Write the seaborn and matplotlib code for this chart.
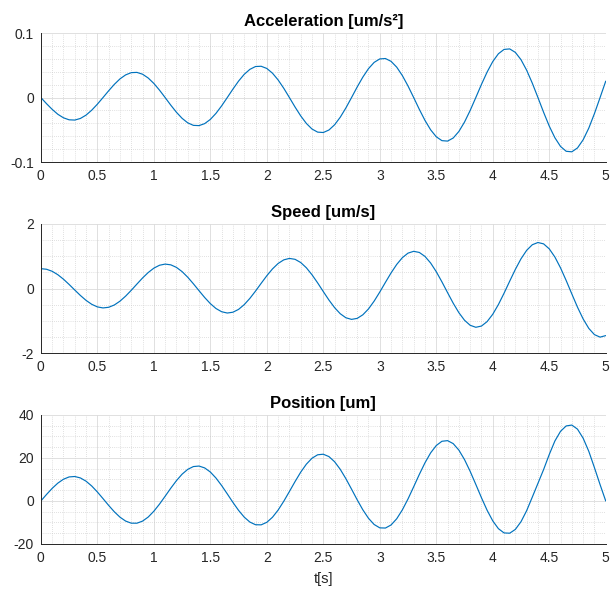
import numpy as np
import matplotlib
matplotlib.use("Agg")
import matplotlib.pyplot as plt
from matplotlib.ticker import MultipleLocator
import seaborn as sns

# sample times [s]
t = [0.00, 0.05, 0.10, 0.15, 0.20, 0.25, 0.30, 0.35, 0.40, 0.45, 0.50,
     0.55, 0.60, 0.65, 0.70, 0.75, 0.80, 0.85, 0.90, 0.95, 1.00, 1.05,
     1.10, 1.15, 1.20, 1.25, 1.30, 1.35, 1.40, 1.45, 1.50, 1.55, 1.60,
     1.65, 1.70, 1.75, 1.80, 1.85, 1.90, 1.95, 2.00, 2.05, 2.10, 2.15,
     2.20, 2.25, 2.30, 2.35, 2.40, 2.45, 2.50, 2.55, 2.60, 2.65, 2.70,
     2.75, 2.80, 2.85, 2.90, 2.95, 3.00, 3.05, 3.10, 3.15, 3.20, 3.25,
     3.30, 3.35, 3.40, 3.45, 3.50, 3.55, 3.60, 3.65, 3.70, 3.75, 3.80,
     3.85, 3.90, 3.95, 4.00, 4.05, 4.10, 4.15, 4.20, 4.25, 4.30, 4.35,
     4.40, 4.45, 4.50, 4.55, 4.60, 4.65, 4.70, 4.75, 4.80, 4.85, 4.90,
     4.95, 5.00]

accel = [0.0, -0.0095, -0.0183, -0.0259, -0.0314, -0.0345, -0.0349, -0.0324, -0.0272, -0.0196, -0.0103,
         0.0, 0.0105, 0.0204, 0.0289, 0.0351, 0.0386, 0.0390, 0.0362, 0.0303, 0.0219, 0.0115,
         0.0, -0.0118, -0.0228, -0.0322, -0.0392, -0.0431, -0.0435, -0.0404, -0.0339, -0.0245, -0.0129,
         0.0, 0.0131, 0.0255, 0.0360, 0.0437, 0.0481, 0.0485, 0.0451, 0.0378, 0.0273, 0.0144,
         0.0, -0.0147, -0.0284, -0.0401, -0.0488, -0.0536, -0.0542, -0.0503, -0.0422, -0.0305, -0.0161,
         0.0, 0.0164, 0.0317, 0.0448, 0.0545, 0.0599, 0.0605, 0.0561, 0.0471, 0.0340, 0.0179,
         0.0, -0.0183, -0.0354, -0.0500, -0.0608, -0.0668, -0.0675, -0.0627, -0.0526, -0.0380, -0.0200,
         0.0, 0.0204, 0.0395, 0.0558, 0.0679, 0.0746, 0.0754, 0.0700, 0.0587, 0.0424, 0.0223,
         0.0, -0.0228, -0.0442, -0.0623, -0.0758, -0.0833, -0.0841, -0.0781, -0.0655, -0.0474, -0.0249,
         0.0, 0.0254]

speed = [0.615, 0.597, 0.534, 0.428, 0.289, 0.126, -0.047, -0.216, -0.368, -0.489, -0.570,
         -0.602, -0.582, -0.511, -0.393, -0.237, -0.056, 0.137, 0.326, 0.495, 0.631, 0.721,
         0.757, 0.734, 0.655, 0.524, 0.350, 0.147, -0.068, -0.279, -0.468, -0.620, -0.720,
         -0.760, -0.735, -0.647, -0.500, -0.306, -0.080, 0.161, 0.396, 0.607, 0.776, 0.888,
         0.933, 0.905, 0.806, 0.643, 0.426, 0.174, -0.095, -0.358, -0.593, -0.782, -0.907,
         -0.957, -0.926, -0.815, -0.633, -0.391, -0.109, 0.191, 0.484, 0.747, 0.957, 1.097,
         1.153, 1.118, 0.995, 0.791, 0.521, 0.206, -0.128, -0.456, -0.749, -0.984, -1.140,
         -1.202, -1.164, -1.026, -0.798, -0.497, -0.146, 0.228, 0.593, 0.921, 1.183, 1.357,
         1.426, 1.384, 1.230, 0.976, 0.639, 0.247, -0.169, -0.578, -0.943, -1.236, -1.430,
         -1.507, -1.460]

position = [0.0, 3.02, 5.86, 8.29, 10.11, 11.18, 11.38, 10.71, 9.20, 6.97, 4.19,
            1.10, -2.06, -5.02, -7.52, -9.34, -10.32, -10.34, -9.37, -7.48, -4.77, -1.47,
            2.20, 5.94, 9.45, 12.46, 14.70, 16.00, 16.24, 15.37, 13.47, 10.66, 7.18,
            3.30, -0.66, -4.37, -7.51, -9.81, -11.05, -11.10, -9.92, -7.58, -4.24, -0.14,
            4.40, 9.03, 13.39, 17.11, 19.88, 21.48, 21.74, 20.64, 18.24, 14.72, 10.36,
            5.50, 0.54, -4.11, -8.05, -10.94, -12.50, -12.59, -11.15, -8.26, -4.12, 0.96,
            6.60, 12.35, 17.75, 22.36, 25.79, 27.76, 28.06, 26.67, 23.65, 19.24, 13.78,
            7.70, 1.50, -4.32, -9.26, -12.88, -14.86, -14.99, -13.22, -9.64, -4.51, 1.80,
            8.20, 14.60, 21.60, 27.90, 32.40, 34.90, 35.30, 33.40, 29.20, 23.10, 15.50,
            7.60, 0.0]

titles = ["Acceleration [um/s\u00b2]", "Speed [um/s]", "Position [um]"]
x_ticks = [0, 0.5, 1, 1.5, 2, 2.5, 3, 3.5, 4, 4.5, 5]
x_labels = ["0", "0.5", "1", "1.5", "2", "2.5", "3", "3.5", "4", "4.5", "5"]
y_ticks = [[-0.1, 0, 0.1], [-2, 0, 2], [-20, 0, 20, 40]]
y_labels = [["-0.1", "0", "0.1"], ["-2", "0", "2"], ["-20", "0", "20", "40"]]
y_minor = [0.02, 0.5, 5]

sns.set_style("white")
plt.rcParams["font.family"] = ["Liberation Sans", "DejaVu Sans"]

line_color = "#0072BD"
axis_color = "#262626"

fig, axes = plt.subplots(3, 1, figsize=(6.1, 5.9), dpi=100)
fig.subplots_adjust(left=0.067, right=0.993, top=0.944, bottom=0.078, hspace=0.48)

series = [accel, speed, position]
for i, ax in enumerate(axes):
    sns.lineplot(x=t, y=series[i], ax=ax, color=line_color, linewidth=0.85,
                 estimator=None, sort=False)
    ax.set_xlim(0, 5)
    ax.set_ylim(y_ticks[i][0], y_ticks[i][-1])
    ax.set_xticks(x_ticks)
    ax.set_xticklabels(x_labels)
    ax.set_yticks(y_ticks[i])
    ax.set_yticklabels(y_labels[i])
    ax.xaxis.set_minor_locator(MultipleLocator(0.1))
    ax.yaxis.set_minor_locator(MultipleLocator(y_minor[i]))

    ax.grid(True, which="major", color="#dadada", linewidth=0.6)
    ax.grid(True, which="minor", color="#c4c4c4", linewidth=0.5, linestyle=(0, (1, 2)))
    ax.set_axisbelow(True)

    for side in ["top", "right"]:
        ax.spines[side].set_visible(False)
    for side in ["left", "bottom"]:
        ax.spines[side].set_color(axis_color)
        ax.spines[side].set_linewidth(0.7)

    ax.tick_params(which="major", direction="in", length=3.5, width=0.7,
                   color=axis_color, labelcolor=axis_color, labelsize=10, pad=5)
    ax.tick_params(which="minor", length=0)
    ax.set_title(titles[i], fontsize=12, fontweight="bold", color="black", pad=5)
    ax.set_ylabel("")
    ax.set_xlabel("")

axes[2].set_xlabel("t[s]", fontsize=10.5, color=axis_color, labelpad=5)

fig.savefig("out.png", dpi=100, facecolor="white")
